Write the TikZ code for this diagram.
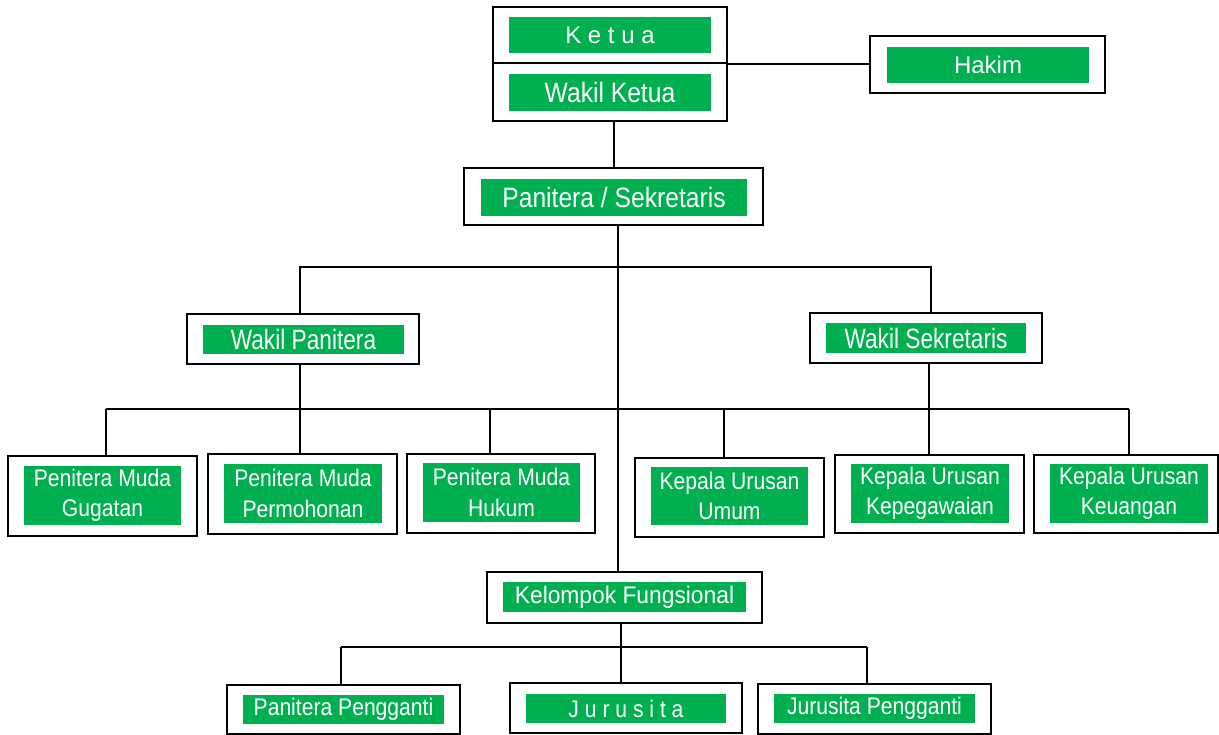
\documentclass[tikz,border=0pt]{standalone}
\usepackage{fontspec}
\setmainfont{Liberation Sans}
\newfontfamily\narrowfont[FakeStretch=0.88]{Liberation Sans}
\newfontfamily\narrowerfont[FakeStretch=0.81]{Liberation Sans}
\newfontfamily\semifont[FakeStretch=0.95]{Liberation Sans}
\definecolor{grn}{HTML}{00B050}
\begin{document}
\begin{tikzpicture}[x=1pt,y=-1pt,
  obox/.style={draw=black,line width=2pt,fill=white,inner sep=0pt},
  gbox/.style={fill=grn,text=white,inner sep=0pt,align=center,font=\narrowfont\fontsize{24}{30.5}\selectfont},
  greg/.style={gbox,font=\fontsize{24}{30}\selectfont},
  gsemi/.style={gbox,font=\semifont\fontsize{24}{30}\selectfont},
  gbig/.style={gbox,font=\narrowfont\fontsize{28}{30}\selectfont},
  gbign/.style={gbox,font=\narrowerfont\fontsize{28}{30}\selectfont},
  conn/.style={draw=black,line width=2pt}]
\useasboundingbox (0,0) rectangle (1219,735);
% helpers: outer box from x1,x2,y1,y2 and green label box
\newcommand{\obx}[5]{\node[obox,minimum width={#3-#2},minimum height={#5-#4}] (#1) at ({(#2+#3)/2},{(#4+#5)/2}) {};}
\newcommand{\gbx}[7][gbox]{\node[#1,minimum width={#4-#3},minimum height={#6-#5}] (#2) at ({(#3+#4)/2},{(#5+#6)/2}) {#7};}
% top
\obx{kt}{493}{727}{7}{63}
\obx{wk}{493}{727}{63}{121}
\gbx[greg]{ktg}{509}{711}{17}{53}{K e t u a}
\gbx[gbig]{wkg}{509}{711}{74}{111}{Wakil Ketua}
\obx{hk}{870}{1105}{36}{93}
\gbx[greg]{hkg}{887}{1089}{47}{83}{Hakim}
\obx{ps}{464}{763}{168}{225}
\gbx[gbig]{psg}{481}{747}{179}{216}{Panitera / Sekretaris}
\obx{wp}{187}{419}{314}{364}
\gbx[gbign]{wpg}{203}{404}{325}{354}{Wakil Panitera}
\obx{ws}{810}{1042}{313}{363}
\gbx[gbign]{wsg}{826}{1026}{323}{353}{Wakil Sekretaris}
% row
\obx{b1}{8}{197}{456}{536}
\gbx{b1g}{24}{181}{466}{525}{Penitera Muda\\Gugatan}
\obx{b2}{208}{397}{454}{534}
\gbx{b2g}{224}{382}{464}{523}{Penitera Muda\\Permohonan}
\obx{b3}{407}{595}{454}{533}
\gbx{b3g}{423}{580}{463}{522}{Penitera Muda\\Hukum}
\obx{b4}{635}{824}{458}{537}
\gbx{b4g}{651}{808}{467}{525}{Kepala Urusan\\Umum}
\obx{b5}{835}{1024}{455}{533}
\gbx{b5g}{851}{1009}{464}{523}{Kepala Urusan\\Kepegawaian}
\obx{b6}{1034}{1218}{455}{533}
\gbx{b6g}{1050}{1208}{464}{523}{Kepala Urusan\\Keuangan}
% bottom
\obx{kf}{487}{762}{572}{623}
\gbx[gsemi]{kfg}{503}{746}{582}{612}{Kelompok Fungsional}
\obx{pp}{227}{460}{685}{734}
\gbx{ppg}{243}{444}{695}{724}{Panitera Pengganti}
\obx{js}{510}{742}{683}{733}
\gbx{jsg}{526}{726}{694}{723}{J u r u s i t a}
\obx{jp}{758}{991}{684}{734}
\gbx{jpg}{774}{975}{694}{723}{Jurusita Pengganti}
% connector coordinates
\coordinate (h1) at (300,267);
\coordinate (h2) at (931,267);
\coordinate (sp) at (618,225);
\coordinate (d1) at (106,409);
\coordinate (d2) at (300,409);
\coordinate (d3) at (490,409);
\coordinate (d4) at (724,409);
\coordinate (d5) at (929,409);
\coordinate (d6) at (1129,409);
\coordinate (e1) at (341,647);
\coordinate (e2) at (621,647);
\coordinate (e3) at (867,647);
\draw[conn] (kt.south east) -- (kt.south east -| hk.west);
\draw[conn] (ps.north) -- (ps.north |- wk.south);
\draw[conn] (sp) -- (sp |- kf.north);
\draw[conn] (h1 |- wp.north) -- (h1) -- (h2) -- (h2 |- ws.north);
\draw[conn] (d2 |- wp.south) -- (d2);
\draw[conn] (d5 |- ws.south) -- (d5);
\draw[conn] (d1) -- (d6);
\draw[conn] (d1) -- (d1 |- b1.north);
\draw[conn] (d2) -- (d2 |- b2.north);
\draw[conn] (d3) -- (d3 |- b3.north);
\draw[conn] (d4) -- (d4 |- b4.north);
\draw[conn] (d5) -- (d5 |- b5.north);
\draw[conn] (d6) -- (d6 |- b6.north);
\draw[conn] (e2 |- kf.south) -- (e2);
\draw[conn] (e1) -- (e3);
\draw[conn] (e1) -- (e1 |- pp.north);
\draw[conn] (e2) -- (e2 |- js.north);
\draw[conn] (e3) -- (e3 |- jp.north);
\end{tikzpicture}
\end{document}
